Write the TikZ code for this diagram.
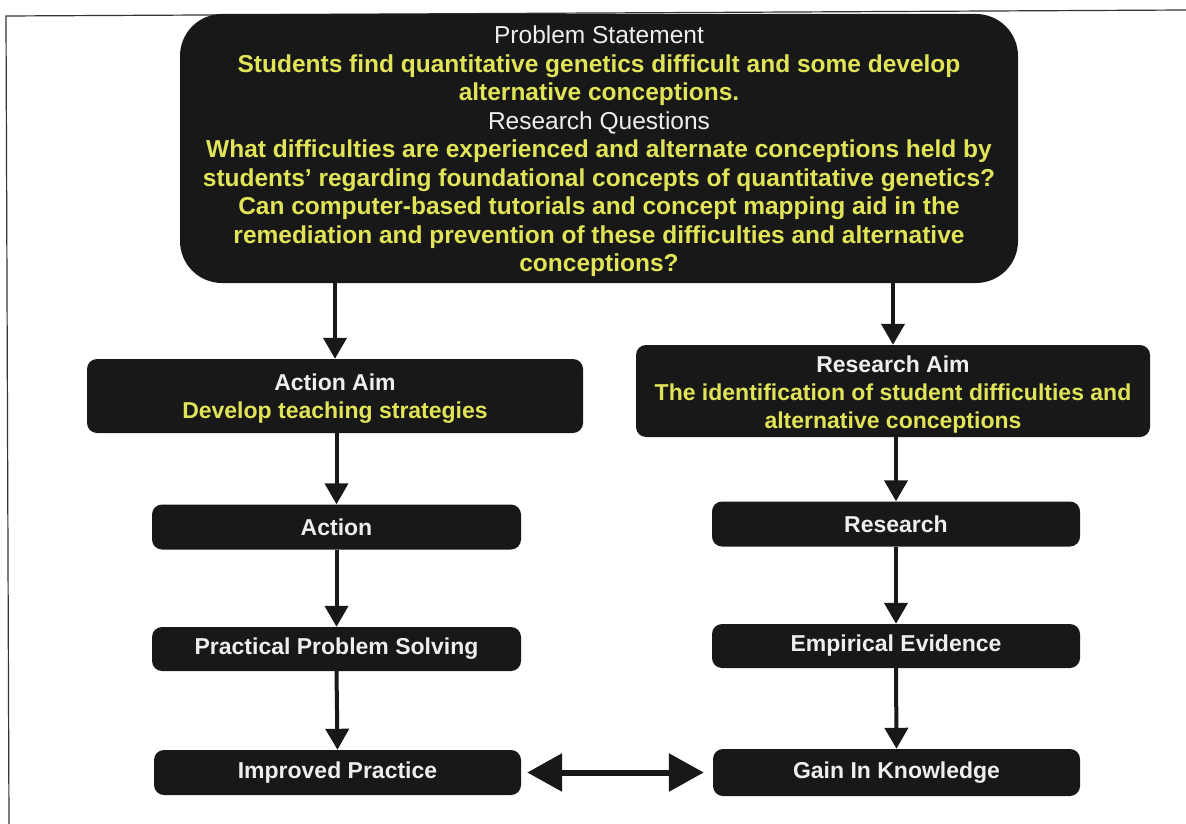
\documentclass[tikz,border=0pt]{standalone}
\usepackage{fontspec}
\setmainfont{Liberation Sans}
\usetikzlibrary{arrows.meta}
\definecolor{boxfill}{RGB}{24,24,24}
\definecolor{headtext}{RGB}{238,238,238}
\definecolor{bodytext}{RGB}{226,228,88}
\tikzset{
  blackbox/.style={fill=boxfill, draw=none, rounded corners=10pt, align=center,
    inner sep=0pt, anchor=center},
  boxfont/.style={font=\fontsize{23}{28}\selectfont\bfseries},
  downarrow/.style={draw=boxfill, line width=4pt,
    -{Triangle[width=23pt,length=21pt]}},
  botharrow/.style={draw=boxfill, line width=6pt,
    {Triangle[width=37pt,length=35pt]}-{Triangle[width=37pt,length=35pt]}},
}
\newcommand{\hd}[1]{\textcolor{headtext}{#1}}
\newcommand{\bd}[1]{\textcolor{bodytext}{#1}}
% extra room above the first line, so the block of lines sits a little lower
\newcommand{\topstrut}[1]{\rule{0pt}{#1}}
\begin{document}
\begin{tikzpicture}[x=1pt,y=-1pt]
\useasboundingbox (0,0) rectangle (1186,824);
% page frame
\draw[line width=1.2pt, black!80] (1186,10) -- (6,16) -- (9,824);

% problem statement and research questions
\node[blackbox, rounded corners=42pt, minimum width=838pt, minimum height=269pt,
      font=\fontsize{24.5}{28.5}\selectfont] (top) at (599,148.5)
  {\topstrut{23.9pt}\hd{Problem Statement}\\
   \bd{\bfseries Students find quantitative genetics difficult and some develop}\\
   \bd{\bfseries alternative conceptions.}\\
   \hd{Research Questions}\\
   \bd{\bfseries What difficulties are experienced and alternate conceptions held by}\\
   \bd{\bfseries students’ regarding foundational concepts of quantitative genetics?}\\
   \bd{\bfseries Can computer-based tutorials and concept mapping aid in the}\\
   \bd{\bfseries remediation and prevention of these difficulties and alternative}\\
   \bd{\bfseries conceptions?}};

% aims
\node[blackbox, boxfont, minimum width=496pt, minimum height=74pt] (aa) at (335,396)
  {\topstrut{22.8pt}\hd{Action Aim}\\ \bd{Develop teaching strategies}};
\node[blackbox, boxfont, minimum width=514pt, minimum height=92pt] (ra) at (893,391)
  {\topstrut{22.8pt}\hd{Research Aim}\\ \bd{The identification of student difficulties and}\\
   \bd{alternative conceptions}};

% action column
\node[blackbox, boxfont, minimum width=369pt, minimum height=45pt] (act) at (336.5,527) {\hd{Action}};
\node[blackbox, boxfont, minimum width=369pt, minimum height=44pt] (pps) at (336.5,649) {\hd{Practical Problem Solving}};
\node[blackbox, boxfont, minimum width=367pt, minimum height=45pt] (imp) at (337.5,772.5) {\hd{Improved Practice}};

% research column
\node[blackbox, boxfont, minimum width=368pt, minimum height=45pt] (res) at (896,524) {\hd{Research}};
\node[blackbox, boxfont, minimum width=368pt, minimum height=44pt] (emp) at (896,646) {\hd{Empirical Evidence}};
\node[blackbox, boxfont, minimum width=367pt, minimum height=47pt] (gain) at (896.5,772.5) {\hd{Gain In Knowledge}};

% connectors
\draw[downarrow] (top.south -| aa.north) -- (aa.north);
\draw[downarrow] (top.south -| ra.north) -- (ra.north);
\draw[downarrow] (aa.south -| act.north) -- (act.north);
\draw[downarrow] (act.south) -- (pps.north);
\draw[downarrow] (pps.south) -- (imp.north);
\draw[downarrow] (ra.south -| res.north) -- (res.north);
\draw[downarrow] (res.south) -- (emp.north);
\draw[downarrow] (emp.south) -- (gain.north);
\draw[botharrow] ([xshift=6pt]imp.east) -- ([xshift=-9pt]gain.west);
\end{tikzpicture}
\end{document}
